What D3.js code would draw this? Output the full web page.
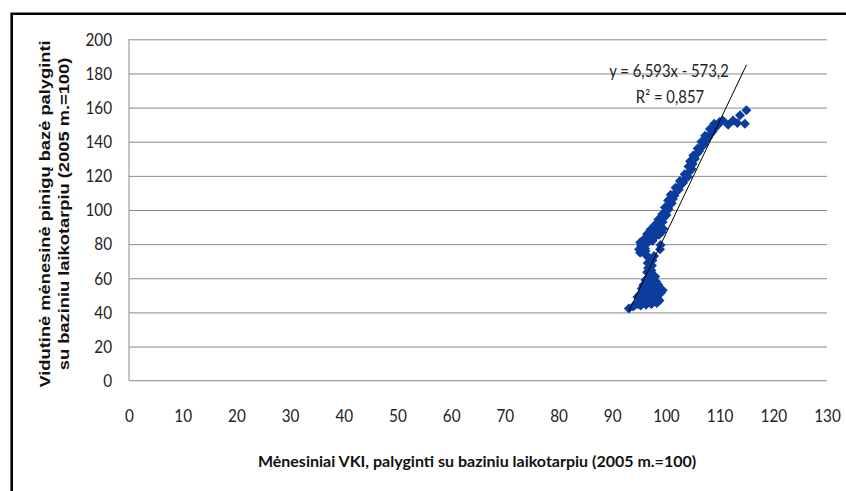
<!DOCTYPE html>
<html>
<head>
<meta charset="utf-8">
<script src="https://cdn.jsdelivr.net/npm/d3@7"></script>
<style>
  body { margin: 0; background: #fff; }
  svg { display: block; }
</style>
</head>
<body>
<svg id="chart" width="846" height="491"></svg>
<script>
// Monthly CPI (2005 = 100) against the average monthly monetary base (2005 = 100)
const cpi = [
  93.1, 93.9, 94.3, 94.8, 95.3, 95.8, 96.3, 96.8, 97.3, 97.8, 98.3, 98.8, 98.4, 97.6, 96.9, 96.1,
  95.4, 94.7, 95.1, 95.8, 96.5, 97.2, 97.9, 98.6, 99.1, 99.4, 98.9, 98.2, 97.5, 96.8, 96.1, 95.5,
  95.8, 96.5, 97.2, 97.9, 98.6, 98.2, 97.5, 96.8, 96.2, 96.7, 97.4, 98.0, 97.1, 96.5, 97.3,
  96.7, 97.4, 96.6, 97.5, 96.9, 97.8, 96.3,
  95.2, 95.0, 95.4, 95.2, 95.8, 96.1, 96.3, 96.8, 97.5, 96.2, 98.9, 99.0,
  96.4, 97.2, 98.0, 98.7, 99.2, 98.6, 99.5,
  96.5, 97.3, 98.1, 97.1, 98.5, 97.9, 98.8, 99.4, 98.6, 99.6, 100.1, 99.3, 99.9, 100.5, 99.8, 100.6,
  101.1, 100.4, 101.3, 101.6, 100.9, 101.9, 102.4, 101.8, 102.7, 103.2, 102.6, 103.5, 104.1, 103.5,
  104.4, 104.8, 104.2, 105.0, 104.5, 105.4, 105.1, 105.8, 106.2, 105.9, 106.7, 107.1, 106.6, 107.5,
  107.9, 107.3, 108.3, 108.7, 108.2, 109.1, 109.6, 109.0, 110.0, 110.6,
  111.6, 112.5, 113.3, 113.8, 114.7, 115.0
];
const base = [
  42.3, 43.5, 44.5, 45.0, 44.0, 45.5, 44.5, 46.0, 45.0, 46.5, 45.5, 47.0, 48.5, 48.0, 48.5, 47.5,
  48.0, 49.0, 50.5, 51.0, 50.0, 50.5, 50.0, 50.5, 51.5, 53.0, 53.5, 52.5, 53.0, 52.5, 53.5, 54.0,
  56.0, 55.5, 55.0, 55.5, 56.0, 58.0, 57.5, 58.0, 59.0, 60.5, 60.0, 61.0, 62.5, 63.5, 64.5,
  66.0, 67.5, 69.0, 70.5, 72.0, 73.0, 73.5,
  75.0, 77.0, 79.0, 81.0, 82.5, 77.5, 80.0, 81.5, 82.0, 76.0, 77.0, 79.5,
  83.5, 84.0, 84.5, 85.5, 87.0, 88.0, 89.0,
  86.0, 86.5, 87.5, 88.5, 89.5, 91.0, 92.0, 93.0, 94.5, 95.5, 97.0, 97.5, 99.0, 100.5, 101.5, 103.0,
  104.0, 105.5, 106.5, 108.5, 109.0, 110.5, 112.0, 113.0, 114.5, 116.0, 117.0, 118.0, 119.5, 121.0,
  122.5, 124.0, 125.5, 127.0, 128.5, 130.0, 132.0, 133.0, 134.5, 136.0, 137.0, 138.5, 140.0, 141.0,
  142.5, 143.5, 144.5, 146.0, 147.5, 148.0, 149.5, 150.5, 151.5, 152.5,
  150.0, 152.5, 151.0, 155.5, 150.5, 158.5
];

const xTicks = [0, 10, 20, 30, 40, 50, 60, 70, 80, 90, 100, 110, 120, 130];
const yTicks = [0, 20, 40, 60, 80, 100, 120, 140, 160, 180, 200];

// Linear trend reported for the series
const trendSlope = 6.593;
const trendIntercept = -573.2;
const trendEquation = "y = 6,593x - 573,2";
const trendR2 = "0,857";

const xTitle = "Mėnesiniai VKI, palyginti su baziniu laikotarpiu (2005 m.=100)";
const yTitle = ["Vidutinė mėnesinė pinigų bazė palyginti", "su baziniu laikotarpiu (2005 m.=100)"];

const svg = d3.select("#chart");
const plot = { left: 129, right: 827, top: 39.3, bottom: 380.7 };

const x = d3.scaleLinear().domain([0, 130]).range([plot.left, plot.right]);
const y = d3.scaleLinear().domain([0, 200]).range([plot.bottom, plot.top]);

const gridColor = "#8a8a8a";
const labelFont = "Lato, 'Open Sans', sans-serif";
const narrow = 0.85; // horizontal squeeze applied to the tick labels

// Outer frame
svg.append("path")
  .attr("d", `M11.7,491 V13.7 H846`)
  .attr("fill", "none")
  .attr("stroke", "#000")
  .attr("stroke-width", 2.6);

// Horizontal gridlines
svg.append("g")
  .attr("transform", `translate(${plot.left},0)`)
  .call(d3.axisLeft(y).tickValues(yTicks.filter(d => d > 0)).tickSize(-(plot.right - plot.left)).tickFormat(""))
  .call(g => g.select(".domain").remove())
  .call(g => g.selectAll("line").attr("stroke", gridColor).attr("stroke-width", 1));

// Axis lines
svg.append("line")
  .attr("x1", plot.left).attr("x2", plot.left)
  .attr("y1", y(200)).attr("y2", y(0))
  .attr("stroke", gridColor);
svg.append("line")
  .attr("x1", plot.left).attr("x2", plot.right)
  .attr("y1", y(0)).attr("y2", y(0))
  .attr("stroke", gridColor);

// Y tick labels
svg.append("g")
  .attr("transform", `translate(${plot.left},0)`)
  .call(d3.axisLeft(y).tickValues(yTicks).tickSize(0).tickFormat(d3.format("d")))
  .call(g => g.select(".domain").remove())
  .call(g => g.selectAll("text")
    .attr("x", -17 / narrow)
    .attr("transform", `scale(${narrow},1)`)
    .attr("font-family", labelFont).attr("font-size", 18).attr("fill", "#222"));

// X tick labels
svg.append("g")
  .attr("transform", `translate(0,${plot.bottom})`)
  .call(d3.axisBottom(x).tickValues(xTicks).tickSize(0).tickFormat(d3.format("d")))
  .call(g => g.select(".domain").remove())
  .call(g => g.selectAll("text")
    .attr("y", 41).attr("dy", null)
    .attr("transform", `scale(${narrow},1)`)
    .attr("font-family", labelFont).attr("font-size", 18).attr("fill", "#222"));

// Data markers (diamonds)
const points = cpi.map((v, i) => ({ cpi: v, base: base[i] }));
const r = 5;
svg.append("g")
  .selectAll("path")
  .data(points)
  .join("path")
  .attr("d", d => {
    const cx = x(d.cpi), cy = y(d.base);
    return `M${cx},${cy - r} L${cx + r},${cy} L${cx},${cy + r} L${cx - r},${cy} Z`;
  })
  .attr("fill", "#0a3d9e");

// Trend line across the data range
const xMin = d3.min(cpi), xMax = d3.max(cpi);
svg.append("line")
  .attr("x1", x(xMin)).attr("y1", y(trendSlope * xMin + trendIntercept))
  .attr("x2", x(xMax)).attr("y2", y(trendSlope * xMax + trendIntercept))
  .attr("stroke", "#000")
  .attr("stroke-width", 1);

// Trend equation
const eq = svg.append("g").attr("font-family", labelFont).attr("fill", "#222").attr("text-anchor", "middle");
eq.append("text")
  .attr("transform", "translate(669,77) scale(0.9,1)")
  .attr("font-size", 16.5)
  .text(trendEquation);
eq.append("text")
  .attr("transform", "translate(670,103) scale(0.9,1)")
  .attr("font-size", 16.5)
  .text(`R² = ${trendR2}`);

// Axis titles
svg.append("text")
  .attr("x", 477).attr("y", 467)
  .attr("text-anchor", "middle")
  .attr("font-family", labelFont).attr("font-size", 16).attr("font-weight", "bold").attr("fill", "#111")
  .text(xTitle);

const yt = svg.append("text")
  .attr("transform", "translate(0,214) rotate(-90) scale(1.22,1)")
  .attr("text-anchor", "middle")
  .attr("font-family", "'Liberation Sans', Arial, sans-serif")
  .attr("font-size", 15).attr("font-weight", "bold").attr("fill", "#111");
yt.append("tspan").attr("x", 0).attr("y", 50).text(yTitle[0]);
yt.append("tspan").attr("x", 0).attr("y", 69).text(yTitle[1]);
</script>
</body>
</html>
